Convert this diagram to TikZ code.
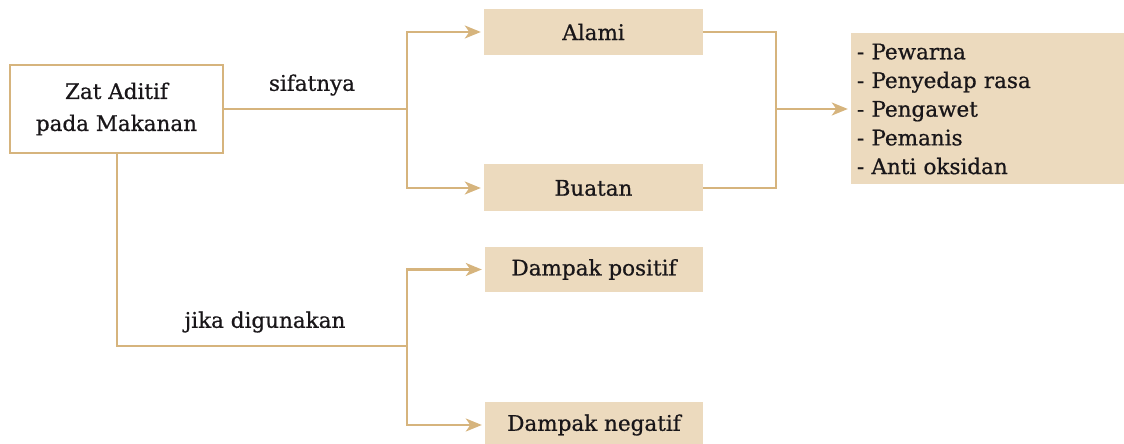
\documentclass[tikz,border=0pt]{standalone}
\usepackage{fontspec}
\setmainfont[FakeBold=0.7]{DejaVu Serif}
\usetikzlibrary{arrows.meta}
\definecolor{tan}{RGB}{214,180,125}
\definecolor{boxfill}{RGB}{236,218,190}
\definecolor{ink}{RGB}{25,22,25}
\begin{document}
\begin{tikzpicture}[x=1pt,y=1pt,
  conn/.style={draw=tan,line width=2.2pt},
  arr/.style={conn,-{Stealth[length=16pt,width=13pt,inset=4.5pt]},shorten >=3pt},
  filled/.style={fill=boxfill,draw=none,inner sep=0pt,font=\fontsize{21.5}{26}\selectfont,text=ink},
  lbl/.style={font=\fontsize{21.5}{26}\selectfont,text=ink,inner sep=0pt}]
\useasboundingbox (0,0) rectangle (1124,444);
\node[draw=tan,line width=2.2pt,fill=white,minimum width=213pt,minimum height=88pt,align=center,
  font=\fontsize{21.5}{32}\selectfont,text=ink,inner sep=0pt] (zat) at (116.5,335) {Zat Aditif\\pada Makanan};
\node[filled,minimum width=219pt,minimum height=46pt] (alami) at (593.5,412) {Alami};
\node[filled,minimum width=219pt,minimum height=47pt] (buatan) at (593.5,256) {Buatan};
\node[filled,minimum width=218pt,minimum height=45pt] (pos) at (594,174.5) {Dampak positif};
\node[filled,minimum width=218pt,minimum height=45pt] (neg) at (594,19) {Dampak negatif};
\node[filled,minimum width=273pt,minimum height=151pt,text width=261pt,align=left,
  font=\fontsize{21.5}{28.7}\selectfont] (list) at (987.5,335)
  {- Pewarna\\- Penyedap rasa\\- Pengawet\\- Pemanis\\- Anti oksidan};
\coordinate (f1) at (407,335);
\coordinate (r1) at (776,335);
\coordinate (b1) at (117,98);
\coordinate (f2) at (407,98);
\draw[conn] (zat.east) -- (f1);
\draw[arr] (f1) |- (alami.west);
\draw[arr] (f1) |- (buatan.west);
\draw[conn] (alami.east) -| (r1);
\draw[conn] (buatan.east) -| (r1);
\draw[arr] (r1) -- (list.west);
\draw[conn] (zat.south -| b1) -- (b1) -- (f2);
\draw[arr] (f2) |- (pos.west);
\draw[arr] (f2) |- (neg.west);
\node[lbl] (sif) at (312,359) {sifatnya};
\node[lbl] (jika) at (265,122) {jika digunakan};
\end{tikzpicture}
\end{document}
